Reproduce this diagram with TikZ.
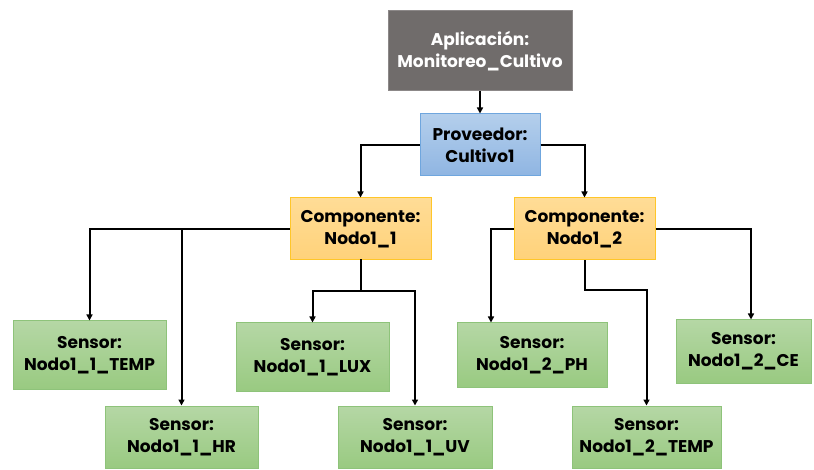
\documentclass[tikz,border=0pt]{standalone}
\usepackage{fontspec}
\setmainfont{Poppins}
\usetikzlibrary{arrows.meta}
\definecolor{appfill}{HTML}{706C6B}
\definecolor{appline}{HTML}{8C8888}
\definecolor{provtop}{HTML}{B4CFEC}
\definecolor{provbot}{HTML}{8FB5E2}
\definecolor{provline}{HTML}{6FA6DE}
\definecolor{comptop}{HTML}{FFDC96}
\definecolor{compbot}{HTML}{FFD27A}
\definecolor{compline}{HTML}{FFC629}
\definecolor{senstop}{HTML}{B5D7A5}
\definecolor{sensbot}{HTML}{99CA81}
\definecolor{sensline}{HTML}{8EC37A}
\tikzset{
  box/.style={rectangle, line width=1pt, align=center, inner sep=0pt,
    font=\fontsize{17}{22}\selectfont\bfseries},
  appbox/.style={box, fill=appfill, draw=appline, text=white},
  provbox/.style={box, top color=provtop, bottom color=provbot, draw=provline},
  compbox/.style={box, top color=comptop, bottom color=compbot, draw=compline},
  sensbox/.style={box, top color=senstop, bottom color=sensbot, draw=sensline},
  link/.style={line width=2pt, line join=miter},
  arr/.style={link, -{Triangle[length=6pt,width=6pt]}}
}
\begin{document}
\begin{tikzpicture}[x=1pt, y=-1pt]
\useasboundingbox (0,0) rectangle (814,470);

% hierarchy: application, provider, components
\node[appbox, minimum width=184pt, minimum height=80pt] (app) at (480,51) {Aplicación:\\Monitoreo\_Cultivo};
\node[provbox, minimum width=120pt, minimum height=62pt] (prov) at (480,145) {Proveedor:\\Cultivo1};
\node[compbox, minimum width=141pt, minimum height=62pt] (c1) at (360.5,229) {Componente:\\Nodo1\_1};
\node[compbox, minimum width=141pt, minimum height=62pt] (c2) at (584.5,229) {Componente:\\Nodo1\_2};

% sensors of Nodo1_1
\node[sensbox, minimum width=153pt, minimum height=68pt] (stemp1) at (89.5,355) {Sensor:\\Nodo1\_1\_TEMP};
\node[sensbox, minimum width=153pt, minimum height=62pt] (shr) at (181.5,437) {Sensor:\\Nodo1\_1\_HR};
\node[sensbox, minimum width=153pt, minimum height=68pt] (slux) at (312.5,357) {Sensor:\\Nodo1\_1\_LUX};
\node[sensbox, minimum width=154pt, minimum height=62pt] (suv) at (415,437) {Sensor:\\Nodo1\_1\_UV};

% sensors of Nodo1_2
\node[sensbox, minimum width=150pt, minimum height=64pt] (sph) at (532,355) {Sensor:\\Nodo1\_2\_PH};
\node[sensbox, minimum width=149pt, minimum height=62pt] (stemp2) at (646.5,437) {Sensor:\\Nodo1\_2\_TEMP};
\node[sensbox, minimum width=135pt, minimum height=63pt] (sce) at (743.5,351.5) {Sensor:\\Nodo1\_2\_CE};

% junction points
\coordinate (j1) at (360.5,291);
\coordinate (j2) at (584.5,290);
\coordinate (phin) at (491,0);
\coordinate (cein) at (751,0);

% connectors
\draw[arr] (app.south) -- (prov.north);
\draw[arr] (prov.west) -| (c1.north);
\draw[arr] (prov.east) -| (c2.north);

\draw[arr] (c1.west) -| (stemp1.north);
\draw[arr] (c1.west -| shr.north) -- (shr.north);
\draw[link, line cap=rect] (c1.south) -- (j1);
\draw[arr] (j1) -| (slux.north);
\draw[arr] (j1) -| (suv.north);

\draw[arr] (c2.west) -| (phin |- sph.north);
\draw[arr] (c2.south) -- (j2) -| (stemp2.north);
\draw[arr] (c2.east) -| (cein |- sce.north);
\end{tikzpicture}
\end{document}
